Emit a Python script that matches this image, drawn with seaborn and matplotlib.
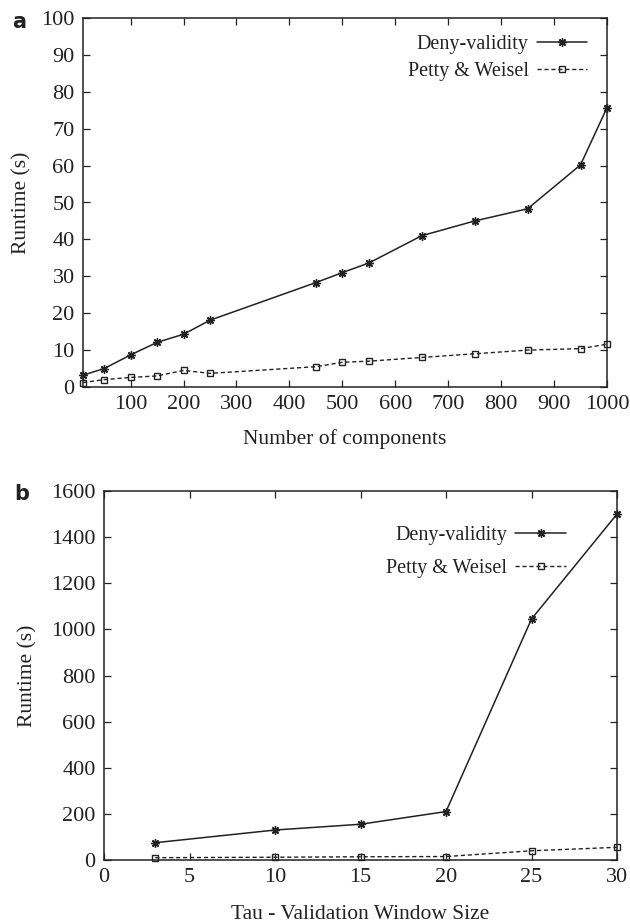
import matplotlib
matplotlib.use("Agg")
import matplotlib.pyplot as plt
import seaborn as sns
import pandas as pd

# panel a: number of components
components = [10, 50, 100, 150, 200, 250, 450, 500, 550, 650, 750, 850, 950, 1000]
deny_a = [3.2, 5.0, 8.7, 12.1, 14.3, 18.1, 28.3, 31.0, 33.6, 41.0, 45.0, 48.3, 60.2, 75.7]
petty_a = [1.2, 2.0, 2.6, 3.0, 4.5, 3.7, 5.5, 6.7, 7.0, 8.0, 9.0, 10.0, 10.4, 11.6]

# panel b: validation window size
tau = [3, 10, 15, 20, 25, 30]
deny_b = [75, 130, 155, 210, 1045, 1500]
petty_b = [10, 12, 14, 15, 40, 55]

sns.set_theme(style="ticks")
plt.rcParams['font.family'] = ['Liberation Serif', 'DejaVu Serif']

INK = '#222222'
TICK_FS = 16
LABEL_FS = 15.5
LEG_FS = 14.5

fig = plt.figure(figsize=(6.3, 9.22), dpi=100)
ax_a = fig.add_axes([83/630, 1 - 387/922, 524/630, 369/922])
ax_b = fig.add_axes([104/630, 1 - 860/922, 513/630, 369/922])

star = (8, 2, 0)


def draw_panel(ax, x, deny, petty):
    df = pd.DataFrame({'x': x, 'deny': deny, 'petty': petty})
    sns.lineplot(data=df, x='x', y='deny', ax=ax, color=INK, lw=1.1,
                 marker=star, markersize=6, markeredgewidth=1.0,
                 markeredgecolor=INK, label='Deny-validity')
    sns.lineplot(data=df, x='x', y='petty', ax=ax, color=INK, lw=1.0,
                 marker='s', markersize=5, markerfacecolor='none',
                 markeredgecolor=INK, markeredgewidth=1.0,
                 label='Petty & Weisel')
    ax.lines[1].set_linestyle((0, (3, 2)))
    ax.tick_params(direction='in', top=True, right=True, length=5,
                   width=0.9, colors=INK, labelsize=TICK_FS, pad=6)
    for s in ax.spines.values():
        s.set_linewidth(1.1)
        s.set_color(INK)
    ax.set_ylabel('Runtime (s)', fontsize=LABEL_FS, color=INK)
    for ln in ax.lines:
        ln.set_clip_on(False)


def add_legend(ax, anchor, spacing):
    leg = ax.legend(loc='upper right', bbox_to_anchor=anchor, frameon=False,
                    markerfirst=False, handlelength=2.5, fontsize=LEG_FS,
                    labelspacing=spacing, handletextpad=0.4,
                    borderaxespad=0, borderpad=0)
    for t in leg.get_texts():
        t.set_color(INK)


draw_panel(ax_a, components, deny_a, petty_a)
ax_a.set_xlim(10, 1000)
ax_a.set_ylim(0, 100)
ax_a.set_xticks(range(100, 1001, 100))
ax_a.set_yticks(range(0, 101, 10))
ax_a.set_xlabel('Number of components', fontsize=LABEL_FS, color=INK)
ax_a.yaxis.set_label_coords(-0.099, 0.5)
ax_a.xaxis.set_label_coords(0.5, -0.113)
add_legend(ax_a, (0.962, 0.955), 0.4)

draw_panel(ax_b, tau, deny_b, petty_b)
ax_b.set_xlim(0, 30)
ax_b.set_ylim(0, 1600)
ax_b.set_xticks(range(0, 31, 5))
ax_b.set_yticks(range(0, 1601, 200))
ax_b.set_xlabel('Tau - Validation Window Size', fontsize=LABEL_FS, color=INK)
ax_b.yaxis.set_label_coords(-0.130, 0.5)
ax_b.xaxis.set_label_coords(0.5, -0.121)
add_legend(ax_b, (0.9, 0.905), 0.7)

fig.text(12/630, 1 - 22/922, 'a', fontsize=15, fontweight='bold',
         family='DejaVu Sans', color=INK, va='center', ha='left')
fig.text(14/630, 1 - 494/922, 'b', fontsize=15, fontweight='bold',
         family='DejaVu Sans', color=INK, va='center', ha='left')

fig.savefig('out.png', dpi=100)
